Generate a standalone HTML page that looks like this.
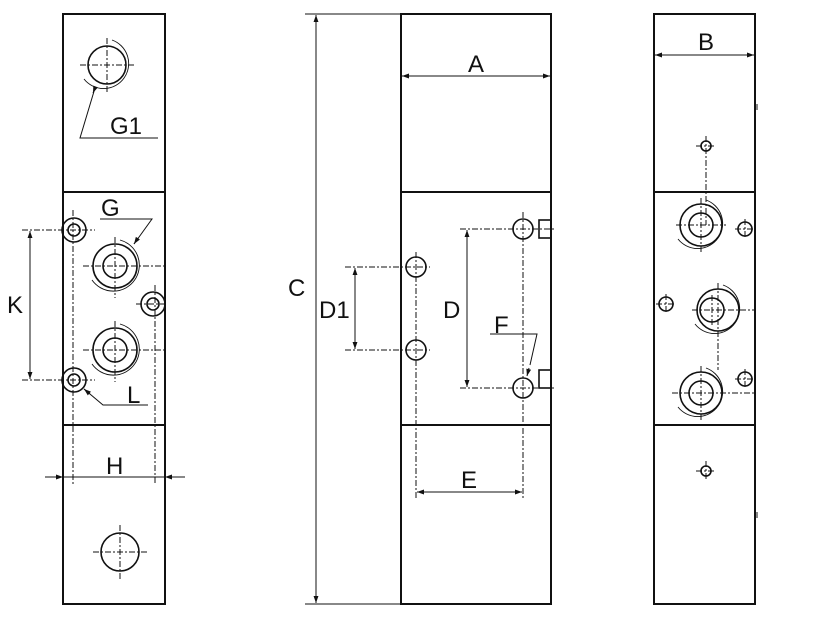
<!DOCTYPE html>
<html><head><style>body{margin:0;background:#fff}svg{display:block}text{font-family:"Liberation Sans",sans-serif;fill:#111}</style></head><body>
<svg width="827" height="619" viewBox="0 0 827 619" xmlns="http://www.w3.org/2000/svg">
<defs>
<marker id="ar" viewBox="0 0 10 10" refX="10" refY="5" markerWidth="10" markerHeight="7" orient="auto-start-reverse" markerUnits="userSpaceOnUse"><path d="M0,1.5L10,5L0,8.5z" fill="#111"/></marker>
</defs>
<g fill="none" stroke="#111" stroke-width="2">
<rect x="63" y="14" width="102" height="590"/><line x1="63" y1="192" x2="165" y2="192"/><line x1="63" y1="425" x2="165" y2="425"/>
<rect x="401" y="14" width="150" height="590"/><line x1="401" y1="192" x2="551" y2="192"/><line x1="401" y1="425" x2="551" y2="425"/>
<rect x="654" y="14" width="101" height="590"/><line x1="654" y1="192" x2="755" y2="192"/><line x1="654" y1="425" x2="755" y2="425"/>
</g>
<g fill="none" stroke="#111" stroke-width="1.6">
<circle cx="107" cy="65" r="19"/><circle cx="120" cy="552" r="19"/>
<circle cx="74" cy="230" r="12"/><circle cx="74" cy="230" r="6"/>
<circle cx="153" cy="304" r="12"/><circle cx="153" cy="304" r="6"/>
<circle cx="74" cy="380" r="12"/><circle cx="74" cy="380" r="6"/>
<circle cx="115" cy="266" r="22"/><circle cx="115" cy="266" r="12"/>
<circle cx="115" cy="350" r="22"/><circle cx="115" cy="350" r="12"/>
<circle cx="416" cy="267" r="10"/><circle cx="416" cy="350" r="10"/>
<circle cx="523" cy="229" r="10"/><circle cx="523" cy="388" r="10"/>
<rect x="539" y="220" width="12" height="18"/><rect x="539" y="370" width="12" height="18"/>
<circle cx="706" cy="146" r="5"/><circle cx="706" cy="471" r="5"/>
<circle cx="745" cy="229" r="7"/><circle cx="666" cy="304" r="7"/><circle cx="745" cy="379" r="7"/>
<circle cx="701" cy="225" r="21"/><circle cx="701" cy="225" r="12"/>
<circle cx="718" cy="310" r="21"/><circle cx="712" cy="310" r="12"/>
<circle cx="701" cy="393" r="21"/><circle cx="701" cy="393" r="12"/>
</g>
<g fill="none" stroke="#111" stroke-width="0.9">
<path d="M112,40 A25,25 0 1 1 84,79"/><path d="M120,240 A26,26 0 1 1 92,280"/><path d="M120,324 A26,26 0 1 1 92,364"/>
<path d="M706,200 A25,25 0 1 1 678,239"/><path d="M723,285 A25,25 0 1 1 695,324"/><path d="M706,368 A25,25 0 1 1 678,407"/>
</g>
<g stroke="#111" stroke-width="1" stroke-dasharray="6,2,2,2" fill="none">
<line x1="80" y1="65" x2="134" y2="65"/><line x1="107" y1="38" x2="107" y2="92"/>
<line x1="93" y1="552" x2="147" y2="552"/><line x1="120" y1="525" x2="120" y2="579"/>
<line x1="22" y1="230" x2="95" y2="230"/><line x1="22" y1="380" x2="95" y2="380"/>
<line x1="73" y1="210" x2="73" y2="485"/><line x1="155" y1="285" x2="155" y2="485"/>
<line x1="83" y1="266" x2="165" y2="266"/><line x1="115" y1="237" x2="115" y2="298"/>
<line x1="83" y1="350" x2="165" y2="350"/><line x1="115" y1="321" x2="115" y2="382"/>
<line x1="136" y1="304" x2="165" y2="304"/>
<line x1="345" y1="267" x2="430" y2="267"/><line x1="345" y1="350" x2="430" y2="350"/>
<line x1="416" y1="252" x2="416" y2="500"/><line x1="523" y1="212" x2="523" y2="500"/>
<line x1="460" y1="229" x2="555" y2="229"/><line x1="460" y1="388" x2="555" y2="388"/>
<line x1="696" y1="146" x2="716" y2="146"/><line x1="706" y1="136" x2="706" y2="225"/>
<line x1="696" y1="471" x2="716" y2="471"/><line x1="706" y1="461" x2="706" y2="481"/>
<line x1="676" y1="225" x2="726" y2="225"/><line x1="701" y1="198" x2="701" y2="252"/>
<line x1="735" y1="229" x2="755" y2="229"/><line x1="745" y1="219" x2="745" y2="239"/>
<line x1="656" y1="304" x2="676" y2="304"/><line x1="666" y1="294" x2="666" y2="314"/>
<line x1="735" y1="379" x2="755" y2="379"/><line x1="745" y1="369" x2="745" y2="389"/>
<line x1="692" y1="310" x2="755" y2="310"/><line x1="718" y1="283" x2="718" y2="370"/><line x1="712" y1="295" x2="712" y2="325"/>
<line x1="672" y1="393" x2="755" y2="393"/><line x1="701" y1="366" x2="701" y2="420"/>
</g>
<g stroke="#111" stroke-width="1" fill="none">
<line x1="30" y1="231" x2="30" y2="379" marker-start="url(#ar)" marker-end="url(#ar)"/>
<line x1="45" y1="477" x2="63" y2="477" marker-end="url(#ar)"/><line x1="185" y1="477" x2="165" y2="477" marker-end="url(#ar)"/><line x1="63" y1="477" x2="165" y2="477"/>
<polyline points="158,138 80,138 95,88"/><line x1="95" y1="88" x2="93" y2="93" marker-end="url(#ar)"/>
<polyline points="100,219 152,219 134,244" /><line x1="138" y1="238" x2="134" y2="244" marker-end="url(#ar)"/>
<polyline points="148,405 103,405 84,389"/><line x1="90" y1="394" x2="84" y2="389" marker-end="url(#ar)"/>
<line x1="305" y1="14" x2="400" y2="14"/><line x1="305" y1="604" x2="400" y2="604"/>
<line x1="316" y1="15" x2="316" y2="603" marker-start="url(#ar)" marker-end="url(#ar)"/>
<line x1="402" y1="76" x2="550" y2="76" marker-start="url(#ar)" marker-end="url(#ar)"/>
<line x1="355" y1="268" x2="355" y2="349" marker-start="url(#ar)" marker-end="url(#ar)"/>
<line x1="467" y1="230" x2="467" y2="387" marker-start="url(#ar)" marker-end="url(#ar)"/>
<line x1="417" y1="492" x2="522" y2="492" marker-start="url(#ar)" marker-end="url(#ar)"/>
<polyline points="490,334 537,334 530,365"/><line x1="529" y1="368" x2="527" y2="376" marker-end="url(#ar)"/>
<line x1="655" y1="55" x2="754" y2="55" marker-start="url(#ar)" marker-end="url(#ar)"/>
<line x1="757" y1="104" x2="757" y2="110"/><line x1="757" y1="512" x2="757" y2="518"/>
</g>
<g font-size="24">
<text x="110" y="134">G1</text><text x="101" y="216">G</text><text x="7" y="313">K</text><text x="127" y="403">L</text><text x="106" y="474">H</text>
<text x="288" y="296">C</text><text x="468" y="72">A</text><text x="319" y="318">D1</text><text x="443" y="318">D</text><text x="494" y="333">F</text><text x="461" y="488">E</text>
<text x="698" y="50">B</text>
</g>
</svg>
</body></html>
